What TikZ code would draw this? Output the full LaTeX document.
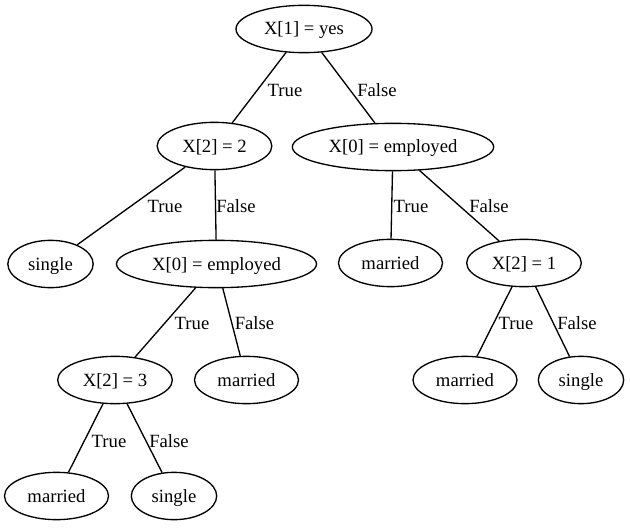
\documentclass[tikz,border=0pt]{standalone}
\usepackage{fontspec}
\setmainfont{Liberation Serif}
\usetikzlibrary{shapes.geometric}

\tikzset{
    tnode/.style={draw, ellipse, line width=1pt, inner sep=0pt, minimum height=35.5pt,
        text height=11pt, text depth=2pt},
    lbl/.style={inner sep=0pt},
    edge/.style={line width=1pt}
}

\begin{document}
\begin{tikzpicture}[x=0.75pt, y=-0.75pt, font=\fontsize{14}{16}\selectfont]
    \useasboundingbox (0,0) rectangle (630,527);

    % root
    \node[tnode, minimum width=102pt] (root) at (304,29) {X[1] = yes};

    % second level
    \node[tnode, minimum width=86pt] (xtwo) at (214.5,146) {X[2] = 2};
    \node[tnode, minimum width=151pt] (empr) at (393,147) {X[0] = employed};

    % third level
    \node[tnode, minimum width=64pt] (singa) at (50.5,264) {single};
    \node[tnode, minimum width=150pt] (empm) at (216.5,264) {X[0] = employed};
    \node[tnode, minimum width=78pt] (marra) at (390.5,263) {married};
    \node[tnode, minimum width=86pt] (xone) at (524,263) {X[2] = 1};

    % fourth level
    \node[tnode, minimum width=86pt] (xthree) at (115,380) {X[2] = 3};
    \node[tnode, minimum width=78pt] (marrb) at (246.5,380) {married};
    \node[tnode, minimum width=78pt] (marrc) at (465,380) {married};
    \node[tnode, minimum width=64pt] (singb) at (581,380) {single};

    % fifth level
    \node[tnode, minimum width=78pt] (marrd) at (56.5,496) {married};
    \node[tnode, minimum width=64pt] (singc) at (174,496) {single};

    % edges
    \draw[edge] (root) -- (xtwo) node[lbl] at (285,90) {True};
    \draw[edge] (root) -- (empr) node[lbl] at (377,90) {False};
    \draw[edge] (xtwo) -- (singa) node[lbl] at (165,206) {True};
    \draw[edge] (xtwo) -- (empm) node[lbl] at (236,206) {False};
    \draw[edge] (empr) -- (marra) node[lbl] at (411,206) {True};
    \draw[edge] (empr) -- (xone) node[lbl] at (489,206) {False};
    \draw[edge] (empm) -- (xthree) node[lbl] at (192,323) {True};
    \draw[edge] (empm) -- (marrb) node[lbl] at (254.5,323) {False};
    \draw[edge] (xone) -- (marrc) node[lbl] at (516,323) {True};
    \draw[edge] (xone) -- (singb) node[lbl] at (577,323) {False};
    \draw[edge] (xthree) -- (marrd) node[lbl] at (109,441) {True};
    \draw[edge] (xthree) -- (singc) node[lbl] at (169,441) {False};
\end{tikzpicture}
\end{document}
